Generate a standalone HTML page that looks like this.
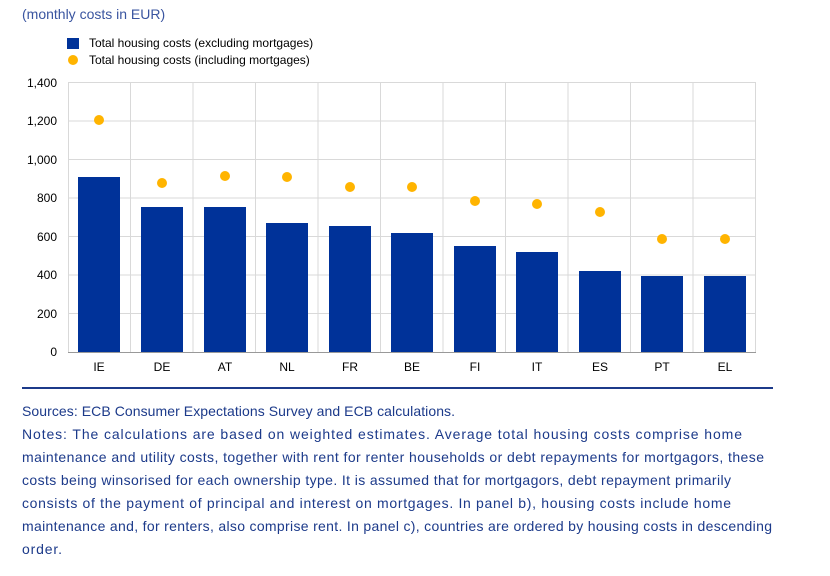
<!DOCTYPE html>
<html><head><meta charset="utf-8"><style>
body{margin:0;background:#fff;width:830px;height:576px;overflow:hidden;font-family:"Liberation Sans",Arial,sans-serif}
.t{position:absolute;left:22px;top:6px;font-size:14px;color:#3a55a0}
</style></head><body>
<div class="t">(monthly costs in EUR)</div>
<svg width="830" height="576" style="position:absolute;left:0;top:0" font-family="Liberation Sans, Arial, sans-serif">
<rect x="67" y="38" width="12" height="11" fill="#003299"/>
<text x="89" y="47" font-size="12" fill="#000">Total housing costs (excluding mortgages)</text>
<circle cx="73" cy="60" r="5" fill="#ffb400"/>
<text x="89" y="64" font-size="12" fill="#000">Total housing costs (including mortgages)</text>
<g stroke="#d9d9d9" stroke-width="1">
<line x1="68" y1="82.5" x2="756" y2="82.5"/><line x1="68" y1="121" x2="756" y2="121"/><line x1="68" y1="159.5" x2="756" y2="159.5"/><line x1="68" y1="198" x2="756" y2="198"/><line x1="68" y1="236.5" x2="756" y2="236.5"/><line x1="68" y1="275" x2="756" y2="275"/><line x1="68" y1="313.5" x2="756" y2="313.5"/>
<line x1="68.5" y1="82" x2="68.5" y2="352"/><line x1="130.5" y1="82" x2="130.5" y2="352"/><line x1="193" y1="82" x2="193" y2="352"/><line x1="255.5" y1="82" x2="255.5" y2="352"/><line x1="318" y1="82" x2="318" y2="352"/><line x1="380.5" y1="82" x2="380.5" y2="352"/><line x1="443" y1="82" x2="443" y2="352"/><line x1="505.5" y1="82" x2="505.5" y2="352"/><line x1="568" y1="82" x2="568" y2="352"/><line x1="630.5" y1="82" x2="630.5" y2="352"/><line x1="693" y1="82" x2="693" y2="352"/><line x1="755.5" y1="82" x2="755.5" y2="352"/>
</g>
<line x1="68" y1="352.5" x2="756" y2="352.5" stroke="#999"/>
<g font-size="12" fill="#000" text-anchor="end">
<text x="57" y="87">1,400</text><text x="57" y="125">1,200</text><text x="57" y="164">1,000</text><text x="57" y="202">800</text><text x="57" y="241">600</text><text x="57" y="279">400</text><text x="57" y="318">200</text><text x="57" y="356">0</text>
</g>
<g fill="#003299">
<rect x="78" y="177" width="42" height="175"/><rect x="141" y="207" width="42" height="145"/><rect x="204" y="207" width="42" height="145"/><rect x="266" y="223" width="42" height="129"/><rect x="329" y="226" width="42" height="126"/><rect x="391" y="233" width="42" height="119"/><rect x="454" y="246" width="42" height="106"/><rect x="516" y="252" width="42" height="100"/><rect x="579" y="271" width="42" height="81"/><rect x="641" y="276" width="42" height="76"/><rect x="704" y="276" width="42" height="76"/>
</g>
<g fill="#ffb400">
<circle cx="99" cy="120" r="5"/><circle cx="162" cy="183" r="5"/><circle cx="225" cy="176" r="5"/><circle cx="287" cy="177" r="5"/><circle cx="350" cy="187" r="5"/><circle cx="412" cy="187" r="5"/><circle cx="475" cy="201" r="5"/><circle cx="537" cy="204" r="5"/><circle cx="600" cy="212" r="5"/><circle cx="662" cy="239" r="5"/><circle cx="725" cy="239" r="5"/>
</g>
<g font-size="12" fill="#000" text-anchor="middle">
<text x="99" y="371">IE</text><text x="162" y="371">DE</text><text x="225" y="371">AT</text><text x="287" y="371">NL</text><text x="350" y="371">FR</text><text x="412" y="371">BE</text><text x="475" y="371">FI</text><text x="537" y="371">IT</text><text x="600" y="371">ES</text><text x="662" y="371">PT</text><text x="725" y="371">EL</text>
</g>
<line x1="22" y1="388" x2="773" y2="388" stroke="#1c3a8a" stroke-width="2"/>
<g font-size="14" fill="#1c3a8a">
<text x="22" y="416" textLength="433" lengthAdjust="spacing">Sources: ECB Consumer Expectations Survey and ECB calculations.</text>
<text x="22" y="439" textLength="720" lengthAdjust="spacing">Notes: The calculations are based on weighted estimates. Average total housing costs comprise home</text>
<text x="22" y="462" textLength="742" lengthAdjust="spacing">maintenance and utility costs, together with rent for renter households or debt repayments for mortgagors, these</text>
<text x="22" y="485" textLength="709" lengthAdjust="spacing">costs being winsorised for each ownership type. It is assumed that for mortgagors, debt repayment primarily</text>
<text x="22" y="508" textLength="709" lengthAdjust="spacing">consists of the payment of principal and interest on mortgages. In panel b), housing costs include home</text>
<text x="22" y="531" textLength="750" lengthAdjust="spacing">maintenance and, for renters, also comprise rent. In panel c), countries are ordered by housing costs in descending</text>
<text x="22" y="554" textLength="40" lengthAdjust="spacing">order.</text>
</g>
</svg>
</body></html>
